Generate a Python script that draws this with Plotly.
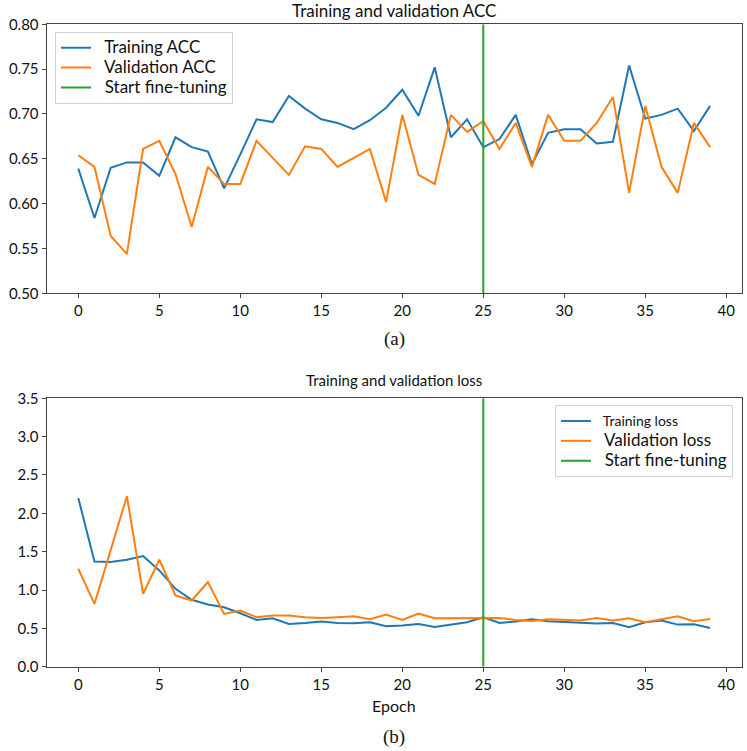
import plotly.graph_objects as go

epochs = list(range(40))
train_acc = [0.639, 0.584, 0.640, 0.646, 0.646, 0.631, 0.674, 0.663, 0.658, 0.617,
             0.655, 0.694, 0.691, 0.720, 0.706, 0.694, 0.690, 0.683, 0.693, 0.707,
             0.727, 0.698, 0.752, 0.674, 0.694, 0.663, 0.672, 0.699, 0.644, 0.679,
             0.683, 0.683, 0.667, 0.669, 0.754, 0.695, 0.699, 0.706, 0.681, 0.709]
val_acc = [0.654, 0.641, 0.564, 0.544, 0.661, 0.670, 0.633, 0.574, 0.641, 0.622,
           0.622, 0.670, 0.651, 0.632, 0.664, 0.661, 0.641, 0.651, 0.661, 0.602,
           0.699, 0.632, 0.622, 0.699, 0.680, 0.692, 0.661, 0.690, 0.641, 0.699,
           0.670, 0.670, 0.690, 0.719, 0.612, 0.709, 0.641, 0.612, 0.690, 0.663]
train_loss = [2.20, 1.373, 1.364, 1.395, 1.443, 1.255, 1.016, 0.872, 0.811, 0.776,
              0.697, 0.610, 0.632, 0.558, 0.571, 0.589, 0.571, 0.567, 0.580, 0.527,
              0.536, 0.558, 0.519, 0.549, 0.580, 0.645, 0.571, 0.589, 0.619, 0.593,
              0.580, 0.575, 0.562, 0.571, 0.514, 0.580, 0.602, 0.549, 0.554, 0.506]
val_loss = [1.277, 0.820, 1.52, 2.223, 0.950, 1.395, 0.929, 0.863, 1.103, 0.689,
            0.732, 0.645, 0.667, 0.667, 0.645, 0.636, 0.645, 0.658, 0.619, 0.680,
            0.610, 0.693, 0.632, 0.632, 0.641, 0.632, 0.636, 0.610, 0.597, 0.619,
            0.610, 0.602, 0.636, 0.602, 0.632, 0.580, 0.619, 0.658, 0.593, 0.623]
finetune_epoch = 25
acc_range = [0.5, 0.8]
loss_range = [0.0, 3.5]
x_ticks = [0, 5, 10, 15, 20, 25, 30, 35, 40]
acc_ticks = [0.50, 0.55, 0.60, 0.65, 0.70, 0.75, 0.80]
loss_ticks = [0.0, 0.5, 1.0, 1.5, 2.0, 2.5, 3.0, 3.5]

BLUE, ORANGE, GREEN = "#1f77b4", "#ff7f0e", "#2ca02c"
SANS = "Lato"
SERIF = "Liberation Serif"
LW = 2


def big(name, size=17):
    return "<span style='font-size:%dpx'>&nbsp;&nbsp;%s</span>" % (size, name)


fig = go.Figure()
fig.add_trace(go.Scatter(x=epochs, y=train_acc, mode="lines", name=big("Training ACC"),
                         line=dict(color=BLUE, width=LW), xaxis="x", yaxis="y", legend="legend"))
fig.add_trace(go.Scatter(x=epochs, y=val_acc, mode="lines", name=big("Validation ACC"),
                         line=dict(color=ORANGE, width=LW), xaxis="x", yaxis="y", legend="legend"))
fig.add_trace(go.Scatter(x=[finetune_epoch, finetune_epoch], y=acc_range, mode="lines",
                         name=big("Start fine-tuning"), line=dict(color=GREEN, width=LW),
                         xaxis="x", yaxis="y", legend="legend"))
fig.add_trace(go.Scatter(x=epochs, y=train_loss, mode="lines",
                         name=big("Training loss", 14),
                         line=dict(color=BLUE, width=LW), xaxis="x2", yaxis="y2", legend="legend2"))
fig.add_trace(go.Scatter(x=epochs, y=val_loss, mode="lines", name=big("Validation loss"),
                         line=dict(color=ORANGE, width=LW), xaxis="x2", yaxis="y2", legend="legend2"))
fig.add_trace(go.Scatter(x=[finetune_epoch, finetune_epoch], y=loss_range, mode="lines",
                         name=big("Start fine-tuning"), line=dict(color=GREEN, width=LW),
                         xaxis="x2", yaxis="y2", legend="legend2"))

W, H = 747, 751
xdom = [46.7 / W, 741.7 / W]
ydom1 = [1 - 293.3 / H, 1 - 24.3 / H]
ydom2 = [1 - 666.7 / H, 1 - 398.3 / H]

axis_common = dict(showgrid=False, zeroline=False, showline=True, mirror=True,
                   linecolor="#444", linewidth=1.3, ticks="outside", ticklen=4,
                   tickcolor="#444", tickwidth=1.2, automargin=False,
                   tickfont=dict(family=SANS, size=15, color="#111"))

legend_common = dict(bgcolor="rgba(255,255,255,0.85)", bordercolor="#d0d0d0", borderwidth=1,
                     font=dict(family=SANS, size=13, color="#111"), itemwidth=30,
                     tracegroupgap=0)

fig.update_layout(
    width=W, height=H,
    margin=dict(l=0, r=0, t=0, b=0, autoexpand=False),
    paper_bgcolor="white", plot_bgcolor="white",
    xaxis=dict(domain=xdom, range=[-1.95, 40.95], tickvals=x_ticks, anchor="y", **axis_common),
    yaxis=dict(domain=ydom1, range=acc_range, tickvals=acc_ticks, tickformat=".2f",
               anchor="x", **axis_common),
    xaxis2=dict(domain=xdom, range=[-1.95, 40.95], tickvals=x_ticks, anchor="y2", **axis_common),
    yaxis2=dict(domain=ydom2, range=loss_range, tickvals=loss_ticks, tickformat=".1f",
                anchor="x2", **axis_common),
    legend=dict(x=55 / W, y=1 - 31.7 / H, xanchor="left", yanchor="top", **legend_common),
    legend2=dict(x=733 / W, y=1 - 405 / H, xanchor="right", yanchor="top", **legend_common),
    showlegend=True,
)

annotations = [
    dict(text="Training and validation ACC", x=394 / W, y=1 - 10.5 / H,
         font=dict(family=SANS, size=17, color="#111")),
    dict(text="(a)", x=394 / W, y=1 - 339 / H, font=dict(family=SERIF, size=19, color="#111")),
    dict(text="Training and validation loss", x=394 / W, y=1 - 380 / H,
         font=dict(family=SANS, size=15, color="#111")),
    dict(text="Epoch", x=394 / W, y=1 - 705 / H, font=dict(family=SANS, size=16, color="#111")),
    dict(text="(b)", x=394 / W, y=1 - 737 / H, font=dict(family=SERIF, size=19, color="#111")),
]
for a in annotations:
    fig.add_annotation(xref="paper", yref="paper", xanchor="center", yanchor="middle",
                       showarrow=False, **a)

fig.write_html("out.html", config={"displayModeBar": False},
               post_script="document.body.style.margin='0px';document.body.style.overflow='hidden';")
